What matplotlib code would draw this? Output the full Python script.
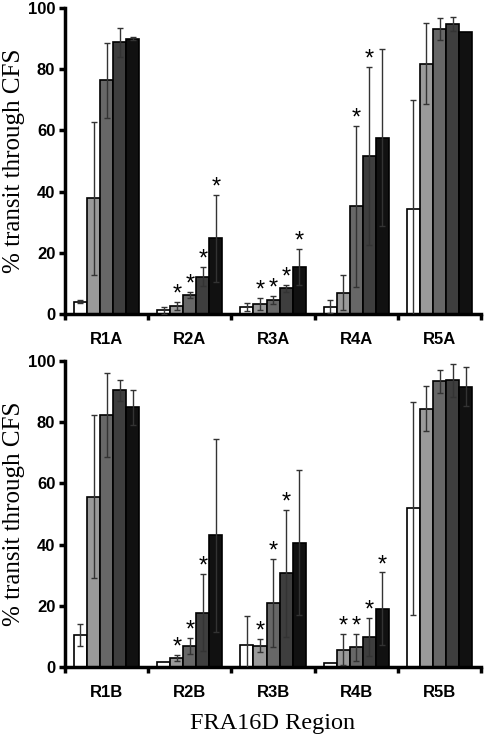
import matplotlib
matplotlib.use("Agg")
import matplotlib.pyplot as plt
import numpy as np

groups_top = ["R1A", "R2A", "R3A", "R4A", "R5A"]
groups_bot = ["R1B", "R2B", "R3B", "R4B", "R5B"]

# values per series (5 series: white, light gray, mid gray, dark gray, black)
top_vals = [
    [4.0, 1.2, 2.2, 2.4, 34.4],
    [37.9, 2.6, 3.3, 7.0, 81.8],
    [76.4, 6.1, 4.7, 35.2, 93.2],
    [88.8, 12.2, 8.4, 51.6, 94.8],
    [90.0, 24.7, 15.5, 57.6, 92.2],
]
top_err = [
    [0.5, 1.1, 1.3, 2.2, 35.5],
    [25.0, 1.2, 2.0, 5.6, 13.2],
    [12.3, 1.0, 1.3, 26.4, 3.7],
    [4.7, 3.2, 1.1, 29.2, 2.2],
    [0.5, 14.3, 5.9, 28.9, 0.0],
]
top_stars = [
    [0, 0, 0, 0, 0],
    [0, 1, 1, 0, 0],
    [0, 1, 1, 1, 0],
    [0, 1, 1, 1, 0],
    [0, 1, 1, 0, 0],
]

bot_vals = [
    [10.5, 1.5, 7.3, 1.3, 51.9],
    [55.7, 3.0, 7.0, 5.7, 84.5],
    [82.3, 6.9, 20.9, 6.4, 93.4],
    [90.4, 17.8, 30.6, 9.8, 93.7],
    [84.9, 43.1, 40.7, 19.1, 91.7],
]
bot_err = [
    [3.6, 0.0, 9.3, 0.0, 34.8],
    [26.6, 1.0, 2.2, 5.1, 7.4],
    [13.8, 2.5, 14.4, 4.4, 3.8],
    [3.3, 12.5, 20.8, 6.1, 5.3],
    [5.7, 31.5, 23.8, 11.8, 6.3],
]
bot_stars = [
    [0, 0, 0, 0, 0],
    [0, 1, 1, 1, 0],
    [0, 1, 1, 1, 0],
    [0, 1, 1, 1, 0],
    [0, 0, 0, 1, 0],
]

colors = ["#ffffff", "#9a9a9a", "#676767", "#3e3e3e", "#111111"]
yticks = [0, 20, 40, 60, 80, 100]

fig = plt.figure(figsize=(4.85, 7.37), dpi=100)
ax_top = fig.add_axes([0.134, 0.574, 0.858, 0.415])
ax_bot = fig.add_axes([0.134, 0.095, 0.858, 0.415])

bw = 0.157

def draw(ax, groups, vals, errs, stars):
    n = len(groups)
    x = np.arange(n) + 0.5
    for i in range(5):
        xs = x + (i - 2) * bw
        ax.bar(xs, vals[i], width=bw, color=colors[i], edgecolor="black", linewidth=1.2, zorder=2)
        e = np.array(errs[i])
        mask = e > 0
        ax.errorbar(xs[mask], np.array(vals[i])[mask], yerr=e[mask], fmt="none",
                    ecolor="#333333", elinewidth=1.0, capsize=2.5, capthick=1.0, zorder=3)
        for j in range(n):
            if stars[i][j]:
                top = vals[i][j] + errs[i][j]
                ax.annotate("*", (xs[j], top), xytext=(0, 1), textcoords="offset points",
                            ha="center", va="baseline", fontsize=17, family="Liberation Sans")
    ax.set_xlim(0, n)
    ax.set_ylim(0, 100)
    ax.set_xticks(np.arange(n + 1))
    ax.set_xticklabels([])
    ax.set_xticks(x, minor=True)
    ax.set_xticklabels(groups, minor=True, fontsize=12, fontweight="bold", family="Liberation Sans")
    ax.tick_params(axis="x", which="major", direction="out", length=4, width=2.5)
    ax.tick_params(axis="x", which="minor", length=0, pad=13)
    ax.set_yticks(yticks)
    ax.set_yticklabels([str(t) for t in yticks], fontsize=12, fontweight="bold", family="Liberation Sans")
    ax.tick_params(axis="y", direction="out", length=4, width=2.5, pad=3)
    for s in ["top", "right"]:
        ax.spines[s].set_visible(False)
    for s in ["left", "bottom"]:
        ax.spines[s].set_linewidth(2.5)
    ax.set_ylabel("% transit through CFS", family="Liberation Serif", fontsize=18, labelpad=2)

draw(ax_top, groups_top, top_vals, top_err, top_stars)
draw(ax_bot, groups_bot, bot_vals, bot_err, bot_stars)
ax_bot.set_xlabel("FRA16D Region", family="Liberation Serif", fontsize=17.5, labelpad=9)

fig.savefig("out.png", dpi=100)
